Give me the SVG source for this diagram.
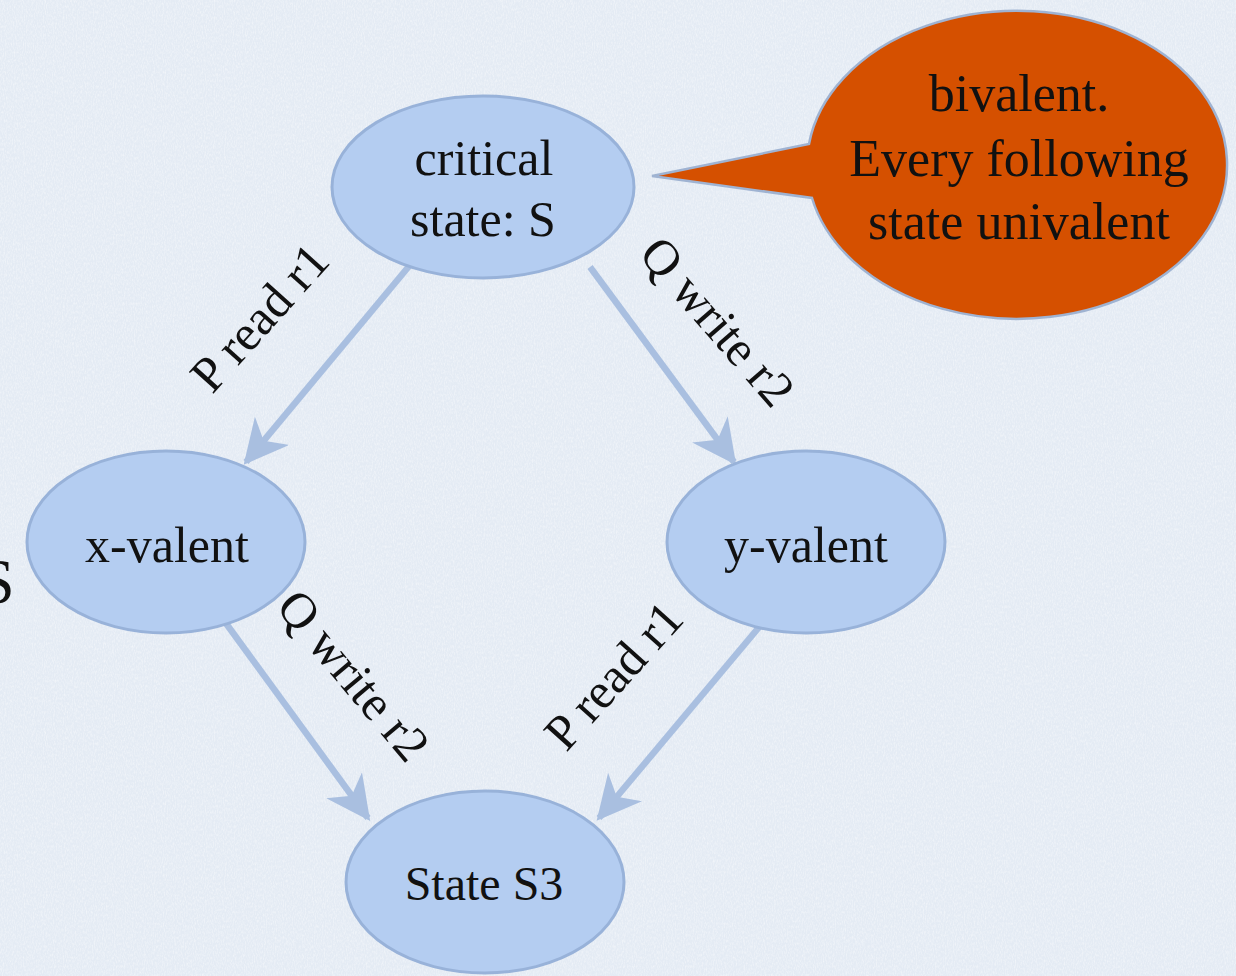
<svg xmlns="http://www.w3.org/2000/svg" width="1236" height="976" viewBox="0 0 1236 976">
  <style>
    .node { fill: #b4cdf1; stroke: #98b2d9; stroke-width: 3; }
    .label { font-family: "Liberation Serif", "DejaVu Serif", serif; font-size: 50px; fill: #111; text-anchor: middle; }
    .callout-text { font-size: 52px; }
    .edge-label { font-family: "Liberation Serif", "DejaVu Serif", serif; font-size: 50px; fill: #111; text-anchor: middle; }
    .edge { stroke: #a9bfe0; stroke-width: 6.5; fill: none; marker-end: url(#head); }
    .callout { fill: #d55000; stroke: #9fb3d2; stroke-width: 2.5; }
  </style>
  <defs>
    <marker id="head" viewBox="0 0 12 12" refX="11" refY="6" markerWidth="6.8" markerHeight="6.8" orient="auto" markerUnits="strokeWidth">
      <path d="M0,0 L12,6 L0,12 L3.5,6 Z" fill="#a9bfe0"/>
    </marker>
    <filter id="paper" x="0" y="0" width="100%" height="100%">
      <feTurbulence type="fractalNoise" baseFrequency="0.9 0.35" numOctaves="3" seed="4" result="n"/>
      <feColorMatrix in="n" type="matrix" values="0 0 0 0 1  0 0 0 0 1  0 0 0 0 1  0 0 0 0.9 -0.35" result="w"/>
      <feComposite in="w" in2="SourceGraphic" operator="in"/>
    </filter>
  </defs>

  <!-- paper background -->
  <rect width="1236" height="976" fill="#e4ebf4"/>
  <rect width="1236" height="976" fill="#e4ebf4" filter="url(#paper)"/>

  <!-- stray letter at the left margin -->
  <text x="-21" y="603" font-family="Liberation Serif, serif" font-size="64" fill="#111">S</text>

  <!-- connectors -->
  <g id="edges">
    <line class="edge" x1="410" y1="265" x2="246" y2="462"/>
    <line class="edge" x1="590" y1="267" x2="734" y2="462"/>
    <line class="edge" x1="225" y1="622" x2="368" y2="818"/>
    <line class="edge" x1="765" y1="620" x2="599" y2="818"/>
    <text class="edge-label" transform="translate(260 318) rotate(-48)" y="16">P read r1</text>
    <text class="edge-label" transform="translate(717 322) rotate(49)" y="16">Q write r2</text>
    <text class="edge-label" transform="translate(353 676) rotate(50)" y="16">Q write r2</text>
    <text class="edge-label" transform="translate(614 676) rotate(-48)" y="16">P read r1</text>
  </g>

  <g id="critical">
    <ellipse class="node" cx="483" cy="187" rx="151" ry="91"/>
    <text class="label" x="484" y="175">critical</text>
    <text class="label" x="483" y="236">state: S</text>
  </g>

  <g id="x-valent">
    <ellipse class="node" cx="166" cy="542" rx="139" ry="91"/>
    <text class="label" x="167" y="562">x-valent</text>
  </g>

  <g id="y-valent">
    <ellipse class="node" cx="806" cy="542" rx="139" ry="91"/>
    <text class="label" x="806" y="562">y-valent</text>
  </g>

  <g id="s3">
    <ellipse class="node" cx="485" cy="882" rx="139" ry="91"/>
    <text class="label" x="484" y="900" style="font-size:48px">State S3</text>
  </g>

  <g id="note">
    <path class="callout" d="M652,176 L809,144 A210,154 0 1 1 812,198 Z"/>
    <text class="label callout-text" x="1019" y="111">bivalent.</text>
    <text class="label callout-text" x="1019" y="176">Every following</text>
    <text class="label callout-text" x="1019" y="239">state univalent</text>
  </g>
</svg>
